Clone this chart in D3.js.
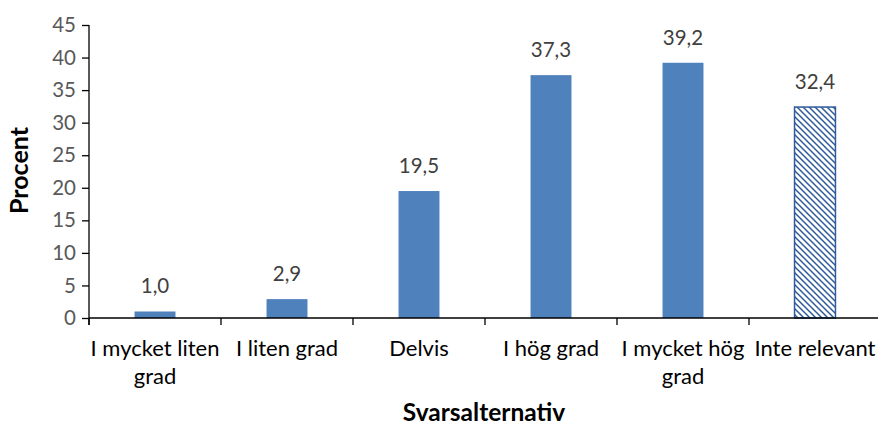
<!DOCTYPE html>
<html>
<head>
<meta charset="utf-8">
<script src="https://cdn.jsdelivr.net/npm/d3@7"></script>
<style>
  body { margin: 0; background: #fff; }
  svg { display: block; font-family: Lato, "Open Sans", sans-serif; }
</style>
</head>
<body>
<svg id="chart" width="878" height="428"></svg>
<script>
// svarsalternativ och andel (procent)
const categories = ['I mycket liten grad', 'I liten grad', 'Delvis', 'I hög grad', 'I mycket hög grad', 'Inte relevant'];
const values = [1.0, 2.9, 19.5, 37.3, 39.2, 32.4];
const hatched = [false, false, false, false, false, true];
const yTicks = [0, 5, 10, 15, 20, 25, 30, 35, 40, 45];

const svg = d3.select('#chart');
const plotLeft = 89, plotRight = 881, plotTop = 25, plotBottom = 318;

const x = d3.scaleBand().domain(categories).range([plotLeft, plotRight]).padding(0);
const y = d3.scaleLinear().domain([0, 45]).range([plotBottom, plotTop]);
const barW = x.bandwidth() * 0.31;

// mönster för "Inte relevant"
const pat = svg.append('defs').append('pattern')
    .attr('id', 'hatch')
    .attr('patternUnits', 'userSpaceOnUse')
    .attr('width', 6).attr('height', 6);
pat.append('rect').attr('width', 6).attr('height', 6).attr('fill', '#fff');
pat.append('path')
    .attr('d', 'M-1,-1 L7,7 M-4,2 L1,7 M2,-4 L7,1')
    .attr('stroke', '#2f5b9a').attr('stroke-width', 1.5);

// staplar
svg.selectAll('.bar')
    .data(categories)
    .enter()
    .append('rect')
    .attr('class', 'bar')
    .attr('x', d => x(d) + (x.bandwidth() - barW) / 2)
    .attr('y', (d, i) => y(values[i]))
    .attr('width', barW)
    .attr('height', (d, i) => plotBottom - y(values[i]))
    .attr('fill', (d, i) => hatched[i] ? 'url(#hatch)' : '#4f81bd')
    .attr('stroke', (d, i) => hatched[i] ? '#2f5b9a' : 'none')
    .attr('stroke-width', 1.5);

// värdeetiketter
svg.selectAll('.val')
    .data(categories)
    .enter()
    .append('text')
    .attr('class', 'val')
    .attr('x', d => x(d) + x.bandwidth() / 2)
    .attr('y', (d, i) => y(values[i]) - 18)
    .attr('text-anchor', 'middle')
    .attr('font-size', 20.5)
    .attr('fill', '#404040')
    .text((d, i) => values[i].toFixed(1).replace('.', ','));

// y-axel
const yAxis = svg.append('g')
    .attr('transform', `translate(${plotLeft},0)`)
    .call(d3.axisLeft(y).tickValues(yTicks).tickSize(7).tickPadding(6).tickSizeOuter(0));
yAxis.select('.domain').attr('d', `M0,${plotTop}V${plotBottom + 7}`).attr('stroke', '#000').attr('stroke-width', 1.3);
yAxis.selectAll('.tick line').attr('stroke', '#000').attr('stroke-width', 1.3);
yAxis.selectAll('.tick text')
    .attr('font-size', 20.5)
    .attr('font-family', 'Lato')
    .attr('fill', '#595959');

// x-axel
const xAxis = svg.append('g').attr('transform', `translate(0,${plotBottom})`);
xAxis.append('line')
    .attr('x1', plotLeft).attr('x2', 878)
    .attr('stroke', '#000').attr('stroke-width', 1.3);
xAxis.selectAll('.sep')
    .data(categories)
    .enter()
    .append('line')
    .attr('x1', d => x(d)).attr('x2', d => x(d))
    .attr('y1', 0).attr('y2', 7)
    .attr('stroke', '#000').attr('stroke-width', 1.3);

const labels = xAxis.selectAll('.cat')
    .data(categories)
    .enter()
    .append('text')
    .attr('class', 'cat')
    .attr('text-anchor', 'middle')
    .attr('font-size', 22)
    .attr('fill', '#000');

// radbrytning efter kategoribredd
labels.each(function(d) {
    const t = d3.select(this);
    const cx = x(d) + x.bandwidth() / 2;
    const words = d.split(' ');
    let line = [];
    let lines = [];
    const probe = t.append('tspan');
    words.forEach(w => {
        probe.text([...line, w].join(' '));
        if (probe.node().getComputedTextLength() > x.bandwidth() + 6 && line.length) {
            lines.push(line.join(' '));
            line = [w];
        } else {
            line.push(w);
        }
    });
    lines.push(line.join(' '));
    probe.remove();
    lines.forEach((l, i) => {
        t.append('tspan').attr('x', cx).attr('y', 38 + i * 28).text(l);
    });
});

// axeltitlar
svg.append('text')
    .attr('x', 484)
    .attr('y', 421)
    .attr('text-anchor', 'middle')
    .attr('font-size', 24.5)
    .attr('font-weight', 'bold')
    .text('Svarsalternativ');

svg.append('text')
    .attr('transform', `translate(28,${(plotTop + plotBottom) / 2 - 1}) rotate(-90)`)
    .attr('text-anchor', 'middle')
    .attr('font-size', 25)
    .attr('font-weight', 'bold')
    .text('Procent');
</script>
</body>
</html>
